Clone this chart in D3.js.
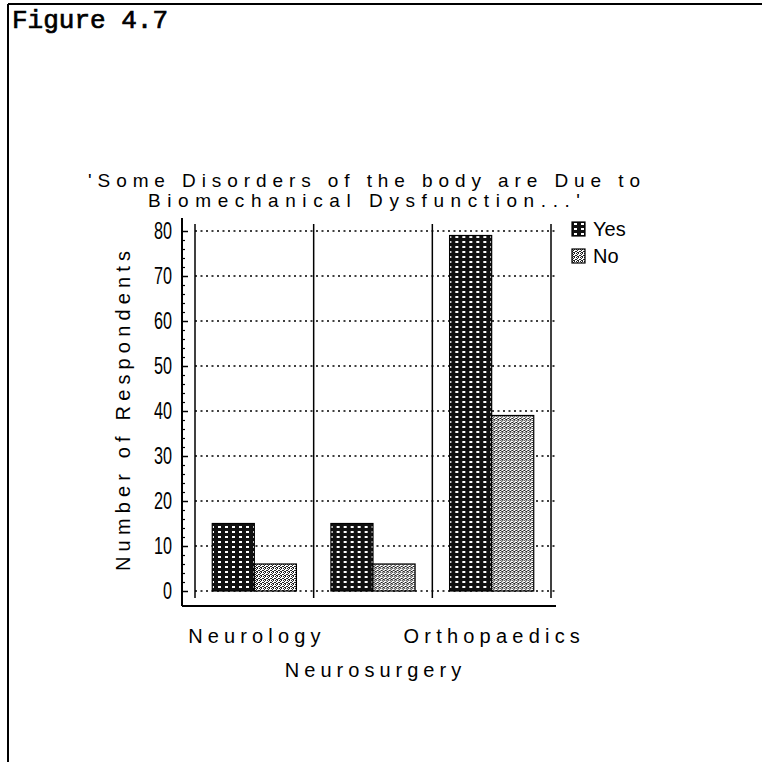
<!DOCTYPE html>
<html>
<head>
<meta charset="utf-8">
<script src="https://cdn.jsdelivr.net/npm/d3@7"></script>
<style>
  html, body { margin: 0; padding: 0; background: #fff; }
  svg { display: block; }
  .lbl { font-family: "Liberation Sans", "DejaVu Sans", sans-serif; fill: #000; }
</style>
</head>
<body>
<div id="chart"></div>
<script>
"use strict";

// data
var categories = ["Neurology", "Neurosurgery", "Orthopaedics"];
var seriesNames = ["Yes", "No"];
var yesValues = [15, 15, 79];
var noValues = [6, 6, 39];
var yTicks = [0, 10, 20, 30, 40, 50, 60, 70, 80];
var titleLines = ["'Some Disorders of the body are Due to", "Biomechanical Dysfunction...'"];

var W = 762, H = 762;

var svg = d3.select("#chart").append("svg")
    .attr("width", W)
    .attr("height", H);

// patterns for the two fills
var defs = svg.append("defs");
var pYes = defs.append("pattern")
    .attr("id", "pat-yes")
    .attr("patternUnits", "userSpaceOnUse")
    .attr("width", 7).attr("height", 5);
pYes.append("rect").attr("width", 7).attr("height", 5).attr("fill", "#111");
pYes.append("rect").attr("x", 2).attr("y", 1).attr("width", 3).attr("height", 2).attr("fill", "#fff");

var pNo = defs.append("pattern")
    .attr("id", "pat-no")
    .attr("patternUnits", "userSpaceOnUse")
    .attr("width", 4).attr("height", 4);
pNo.append("rect").attr("width", 4).attr("height", 4).attr("fill", "#fff");
[[0, 0], [2, 0], [1, 1], [3, 2], [0, 2], [2, 3], [1, 3]].forEach(function (p) {
    pNo.append("rect").attr("x", p[0]).attr("y", p[1]).attr("width", 1).attr("height", 1).attr("fill", "#222");
});

// page frame
svg.append("line").attr("x1", 8).attr("y1", 4).attr("x2", W).attr("y2", 4)
    .attr("stroke", "#000").attr("stroke-width", 2);
svg.append("line").attr("x1", 8).attr("y1", 4).attr("x2", 8).attr("y2", H)
    .attr("stroke", "#000").attr("stroke-width", 2);

svg.append("text")
    .attr("x", 12).attr("y", 28)
    .attr("font-family", "'Liberation Mono', 'DejaVu Sans Mono', monospace")
    .attr("font-size", 26)
    .attr("stroke", "#000")
    .attr("stroke-width", 0.7)
    .attr("textLength", 156)
    .attr("lengthAdjust", "spacingAndGlyphs")
    .text("Figure 4.7");

// title
var titleWidths = [552, 432];
svg.selectAll("text.title")
    .data(titleLines)
    .enter().append("text")
    .attr("class", "title lbl")
    .attr("x", 364)
    .attr("y", function (d, i) { return 187 + i * 20; })
    .attr("text-anchor", "middle")
    .attr("font-size", 19)
    .attr("textLength", function (d, i) { return titleWidths[i]; })
    .attr("lengthAdjust", "spacing")
    .text(function (d) { return d; });

// scales
var y = d3.scaleLinear().domain([0, 80]).range([591, 231]);
var x0 = d3.scaleBand().domain(categories).range([195, 551]).padding(0);
var x1 = d3.scaleBand().domain(seriesNames).range([0, x0.bandwidth()])
    .paddingInner(0).paddingOuter(0.41);

var axisX = 182, bottomY = 606;

// dotted gridlines
svg.append("g").selectAll("line")
    .data(yTicks)
    .enter().append("line")
    .attr("x1", 195).attr("x2", 555)
    .attr("y1", function (d) { return y(d); })
    .attr("y2", function (d) { return y(d); })
    .attr("stroke", "#000")
    .attr("stroke-width", 1.3)
    .attr("stroke-dasharray", "2,3.5");

// group separators
var seps = categories.map(function (c) { return x0(c); }).concat([x0.range()[1]]);
svg.append("g").selectAll("line")
    .data(seps)
    .enter().append("line")
    .attr("x1", function (d) { return d; }).attr("x2", function (d) { return d; })
    .attr("y1", y(80) - 7).attr("y2", bottomY - 8)
    .attr("stroke", "#000").attr("stroke-width", 1.5);

// bars
var rows = categories.map(function (c, i) {
    return { cat: c, vals: [{ key: "Yes", v: yesValues[i] }, { key: "No", v: noValues[i] }] };
});

var groups = svg.append("g").selectAll("g")
    .data(rows)
    .enter().append("g")
    .attr("transform", function (d) { return "translate(" + x0(d.cat) + ",0)"; });

groups.selectAll("rect")
    .data(function (d) { return d.vals; })
    .enter().append("rect")
    .attr("x", function (d) { return x1(d.key); })
    .attr("y", function (d) { return y(d.v); })
    .attr("width", x1.bandwidth())
    .attr("height", function (d) { return y(0) - y(d.v); })
    .attr("fill", function (d) { return d.key == "Yes" ? "url(#pat-yes)" : "url(#pat-no)"; })
    .attr("stroke", "#000")
    .attr("stroke-width", 1.2);

// y axis: major ticks with labels, minor ticks every 2
var yAxis = svg.append("g")
    .attr("transform", "translate(" + axisX + ",0)")
    .call(d3.axisLeft(y).tickValues(yTicks).tickSizeInner(-6).tickSizeOuter(0).tickPadding(10));
yAxis.select(".domain").remove();
yAxis.selectAll("line").attr("stroke-width", 1.5);
yAxis.selectAll("text")
    .attr("class", "lbl")
    .attr("font-size", 23)
    .attr("textLength", function (d) { return String(d).length * 9; })
    .attr("lengthAdjust", "spacingAndGlyphs");

var minor = d3.range(0, 81, 2).filter(function (d) { return d % 10 != 0; });
var yMinor = svg.append("g")
    .attr("transform", "translate(" + axisX + ",0)")
    .call(d3.axisLeft(y).tickValues(minor).tickSizeInner(-3).tickSizeOuter(0).tickFormat(""));
yMinor.select(".domain").remove();
yMinor.selectAll("line").attr("stroke-width", 1.2);

// axis lines
svg.append("line")
    .attr("x1", axisX).attr("x2", axisX)
    .attr("y1", y(80) - 13).attr("y2", bottomY)
    .attr("stroke", "#000").attr("stroke-width", 2);
svg.append("line")
    .attr("x1", axisX).attr("x2", 556)
    .attr("y1", bottomY).attr("y2", bottomY)
    .attr("stroke", "#000").attr("stroke-width", 2);

// y axis title
svg.append("text")
    .attr("class", "lbl")
    .attr("transform", "translate(130,411) rotate(-90)")
    .attr("text-anchor", "middle")
    .attr("font-size", 20)
    .attr("textLength", 320)
    .attr("lengthAdjust", "spacing")
    .text("Number of Respondents");

// category labels, staggered
svg.append("g").selectAll("text")
    .data(categories)
    .enter().append("text")
    .attr("class", "lbl")
    .attr("x", function (d) { return x0(d) + x0.bandwidth() / 2; })
    .attr("y", function (d, i) { return i % 2 == 0 ? 643 : 677; })
    .attr("text-anchor", "middle")
    .attr("font-size", 20)
    .attr("textLength", function (d) { return d.length * 14.7; })
    .attr("lengthAdjust", "spacing")
    .text(function (d) { return d; });

// legend
var legend = svg.append("g").selectAll("g")
    .data(seriesNames)
    .enter().append("g")
    .attr("transform", function (d, i) { return "translate(572," + (222 + i * 27) + ")"; });
legend.append("rect")
    .attr("width", 13).attr("height", 14)
    .attr("fill", function (d) { return d == "Yes" ? "url(#pat-yes)" : "url(#pat-no)"; })
    .attr("stroke", "#000").attr("stroke-width", 1.2);
legend.append("text")
    .attr("class", "lbl")
    .attr("x", 21).attr("y", 14)
    .attr("font-size", 20)
    .text(function (d) { return d; });
</script>
</body>
</html>
